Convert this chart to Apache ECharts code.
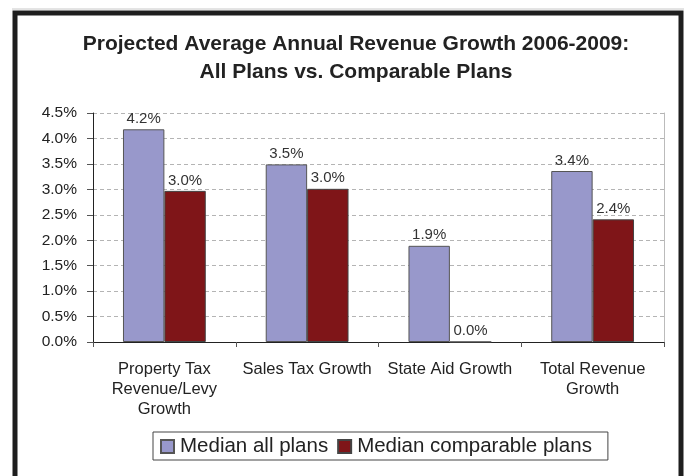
<!DOCTYPE html>
<html>
<head>
<meta charset="utf-8">
<title>Projected Average Annual Revenue Growth</title>
<script src="https://cdn.jsdelivr.net/npm/echarts@6/dist/echarts.min.js"></script>
<style>
  html, body { margin: 0; padding: 0; background: #fff; }
  #chart { width: 684px; height: 476px; }
</style>
</head>
<body>
<div id="chart"></div>
<script>
// Revenue categories shown along the x axis
const categories = [
  'Property Tax\nRevenue/Levy\nGrowth',
  'Sales Tax Growth',
  'State Aid Growth',
  'Total Revenue\nGrowth'
];

// Median projected annual growth, in percent
const medianAllPlans = [4.18, 3.49, 1.89, 3.36];
const medianComparablePlans = [2.97, 3.01, 0.0, 2.41];

const seriesNames = ['Median all plans', 'Median comparable plans'];

// Value axis range and step, in percent
const yMin = 0;
const yMax = 4.5;
const yStep = 0.5;

const FONT = 'Arial, "Liberation Sans", sans-serif';
const pct = v => Number(v).toFixed(1) + '%';

const chart = echarts.init(document.getElementById('chart'), null, { renderer: 'canvas' });

const barLabel = {
  show: true,
  position: 'top',
  distance: 3,
  color: '#333',
  fontFamily: FONT,
  fontSize: 15,
  formatter: p => pct(p.value)
};

chart.setOption({
  backgroundColor: '#fff',
  animation: false,
  title: {
    text: 'Projected Average Annual Revenue Growth 2006-2009:\nAll Plans vs. Comparable Plans',
    left: 351,
    top: 25,
    textAlign: 'center',
    textStyle: {
      fontFamily: FONT,
      fontSize: 21,
      fontWeight: 'bold',
      color: '#222',
      lineHeight: 28
    }
  },
  legend: {
    data: seriesNames,
    icon: 'rect',
    left: 153,
    top: 432,
    orient: 'horizontal',
    itemWidth: 13,
    itemHeight: 13,
    itemGap: 9,
    padding: [4, 16, 3, 7],
    borderColor: '#444',
    borderWidth: 1,
    textStyle: { fontFamily: FONT, fontSize: 20.5, color: '#222', padding: [0, 0, 0, 1] }
  },
  grid: { left: 93, right: 20, top: 113, bottom: 134, containLabel: false },
  xAxis: [
    {
      type: 'category',
      data: categories,
      axisLine: { show: true, lineStyle: { color: '#222', width: 1 } },
      axisTick: { show: true, length: 5, lineStyle: { color: '#555' } },
      axisLabel: {
        margin: 17,
        color: '#222',
        fontFamily: FONT,
        fontSize: 16.5,
        lineHeight: 20,
        interval: 0
      },
      splitLine: { show: false }
    },
    {
      // plain frame line along the top of the plot
      type: 'category',
      position: 'top',
      data: categories,
      axisLine: { show: true, lineStyle: { color: '#222', width: 1 } },
      axisTick: { show: false },
      axisLabel: { show: false }
    }
  ],
  yAxis: [
    {
      type: 'value',
      min: yMin,
      max: yMax,
      interval: yStep,
      axisLine: { show: true, lineStyle: { color: '#222', width: 1 } },
      axisTick: { show: true, length: 6, lineStyle: { color: '#555' } },
      axisLabel: {
        margin: 16,
        color: '#222',
        fontFamily: FONT,
        fontSize: 15.5,
        formatter: v => pct(v)
      },
      splitLine: { show: true, lineStyle: { color: '#b4b4b4', type: [4, 3], width: 1 } }
    },
    {
      // light frame line along the right edge of the plot
      type: 'value',
      position: 'right',
      min: yMin,
      max: yMax,
      interval: yStep,
      axisLine: { show: true, lineStyle: { color: '#bbb', width: 1 } },
      axisTick: { show: false },
      axisLabel: { show: false },
      splitLine: { show: false }
    }
  ],
  series: [
    {
      name: seriesNames[0],
      type: 'bar',
      data: medianAllPlans,
      barGap: '0%',
      barCategoryGap: '42%',
      itemStyle: { color: '#9898cb', borderColor: '#555', borderWidth: 1 },
      label: barLabel
    },
    {
      name: seriesNames[1],
      type: 'bar',
      data: medianComparablePlans,
      barGap: '0%',
      barCategoryGap: '42%',
      itemStyle: { color: '#7f1518', borderColor: '#444', borderWidth: 1 },
      label: barLabel
    }
  ],
  graphic: [
    {
      type: 'rect',
      silent: true,
      z: 100,
      shape: { x: 15, y: 13, width: 666, height: 480 },
      style: { fill: null, stroke: '#1e1e1e', lineWidth: 5 }
    },
    {
      type: 'line',
      silent: true,
      z: 100,
      shape: { x1: 12, y1: 9, x2: 684, y2: 9 },
      style: { stroke: '#c8c8c8', lineWidth: 1 }
    }
  ]
});
</script>
</body>
</html>
